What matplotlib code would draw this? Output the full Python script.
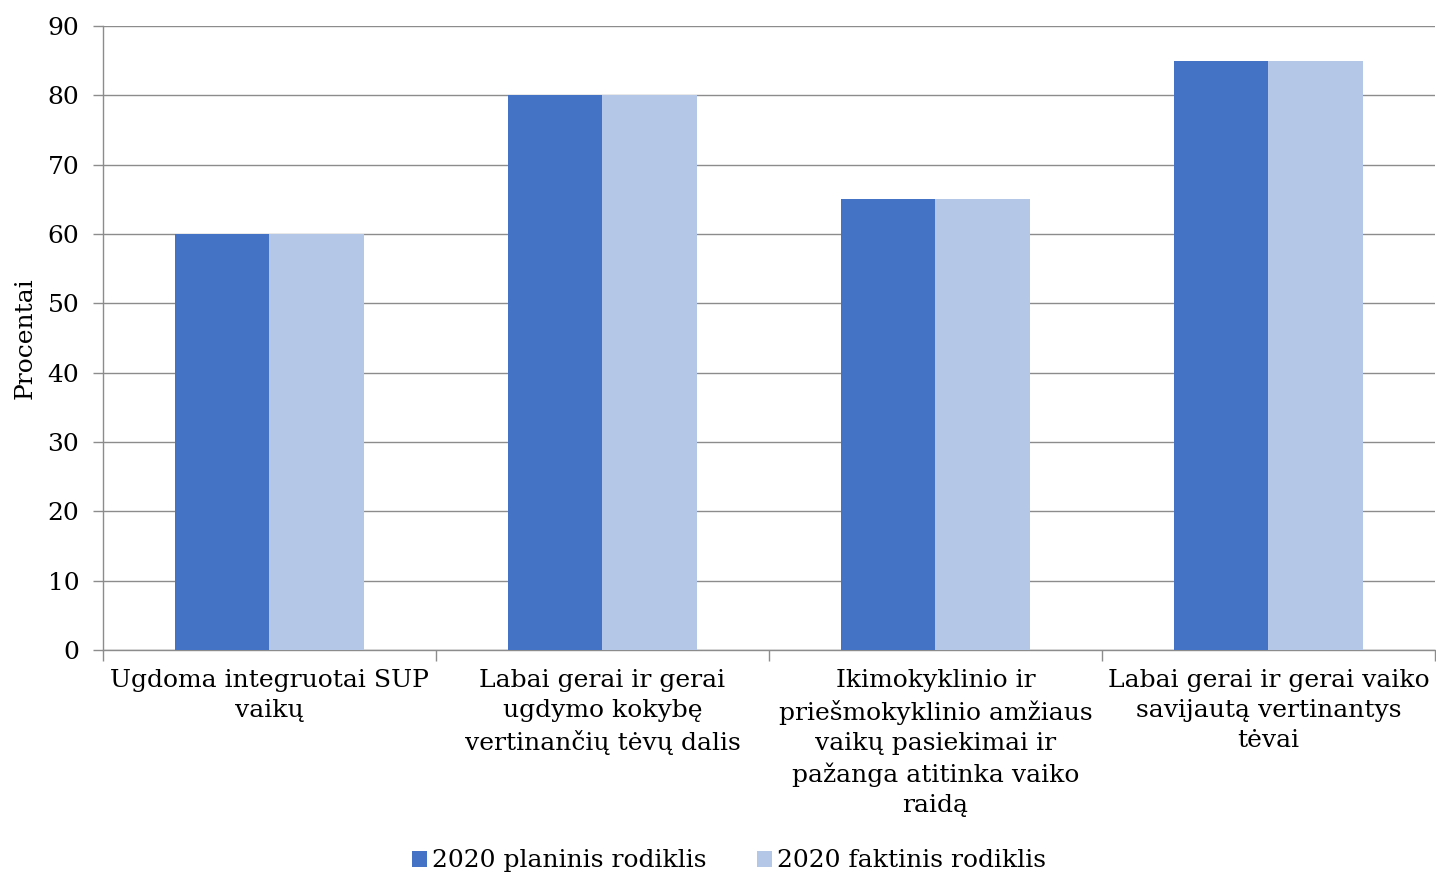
import numpy as np
import matplotlib
matplotlib.use('Agg')
import matplotlib.pyplot as plt

categories = ['Ugdoma integruotai SUP\nvaikų',
              'Labai gerai ir gerai\nugdymo kokybę\nvertinančių tėvų dalis',
              'Ikimokyklinio ir\npriešmokyklinio amžiaus\nvaikų pasiekimai ir\npažanga atitinka vaiko\nraidą',
              'Labai gerai ir gerai vaiko\nsavijautą vertinantys\ntėvai']
planinis = [60, 80, 65, 85]
faktinis = [60, 80, 65, 85]
series_names = ['2020 planinis rodiklis', '2020 faktinis rodiklis']
yticks = [0, 10, 20, 30, 40, 50, 60, 70, 80, 90]

plt.rcParams['font.family'] = ['DejaVu Serif']

fig = plt.figure(figsize=(14.36, 8.76), dpi=100)
ax = fig.add_axes([0.0717, 0.258, 0.9276, 0.7125])

x = np.arange(len(categories))
w = 0.285
ax.bar(x - w / 2, planinis, w, color='#4472C4', label=series_names[0], zorder=3)
ax.bar(x + w / 2, faktinis, w, color='#B4C7E7', label=series_names[1], zorder=3)

ax.set_xlim(-0.5, len(categories) - 0.5)
ax.set_ylim(0, 90)
ax.set_yticks(yticks)
ax.tick_params(axis='y', labelsize=18, length=7, color='#8c8c8c', width=1, pad=10)
ax.set_xticks(x)
ax.set_xticklabels(categories, fontsize=18, linespacing=1.38)
ax.tick_params(axis='x', which='major', length=0, pad=14)
ax.set_xticks(np.arange(-0.5, len(categories)), minor=True)
ax.tick_params(axis='x', which='minor', length=8, color='#8c8c8c', width=1)

ax.grid(axis='y', color='#8c8c8c', linewidth=1, zorder=0)
for s in ['top', 'right']:
    ax.spines[s].set_visible(False)
for s in ['left', 'bottom']:
    ax.spines[s].set_color('#8c8c8c')
    ax.spines[s].set_linewidth(1)

ax.set_ylabel('Procentai', fontsize=18, labelpad=8)

ax.legend(loc='center', bbox_to_anchor=(0.47, -0.338), ncol=2, frameon=False,
          fontsize=18, handlelength=0.6, handleheight=0.6, handletextpad=0.2,
          columnspacing=2.0)

fig.savefig('out.png', dpi=100)
